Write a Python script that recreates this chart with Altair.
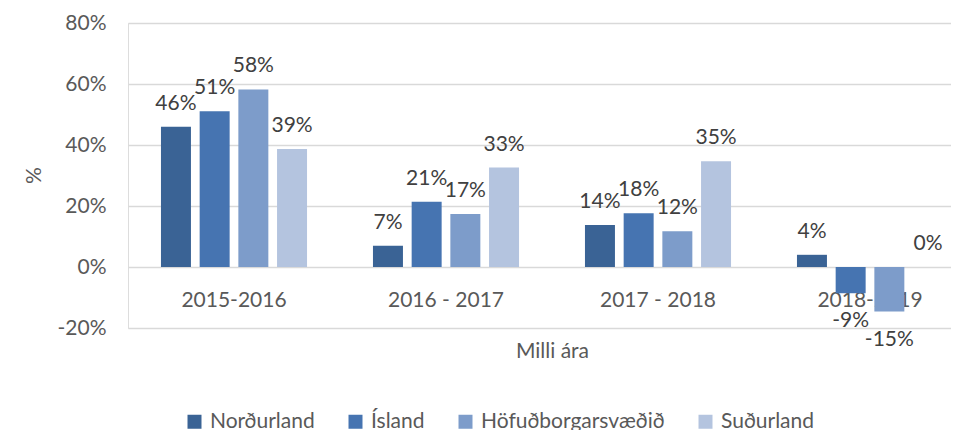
import altair as alt
import pandas as pd

categories = ["2015-2016", "2016 - 2017", "2017 - 2018", "2018-2019"]
series = ["Norðurland", "Ísland", "Höfuðborgarsvæðið", "Suðurland"]
nordurland = [0.46, 0.07, 0.138, 0.04]
island = [0.511, 0.214, 0.176, -0.086]
hofudborg = [0.582, 0.174, 0.117, -0.146]
sudurland = [0.387, 0.326, 0.347, 0.0]
colors = ["#3A6395", "#4674B1", "#7D9CCA", "#B4C4DF"]

rows = []
for name, vals in zip(series, [nordurland, island, hofudborg, sudurland]):
    for cat, v in zip(categories, vals):
        rows.append({"period": cat, "series": name, "value": v})
df = pd.DataFrame(rows)

FONT = "Lato"

x_enc = alt.X(
    "period:N",
    sort=categories,
    scale=alt.Scale(range=[0, 848], paddingInner=0.311, paddingOuter=0.1555),
    title="Milli ára",
    axis=alt.Axis(
        orient="bottom", offset=-61, domain=False, ticks=False, tickSize=0,
        labelAngle=0, labelFont=FONT, labelFontSize=21, labelColor="#595959",
        labelBaseline="alphabetic", labelPadding=39,
        titleFont=FONT, titleFontSize=21, titleFontWeight="normal", titleColor="#595959",
        titleX=424, titleY=90, titleAlign="center", titleBaseline="alphabetic",
    ),
)
xoff = alt.XOffset("series:N", sort=series, scale=alt.Scale(paddingInner=0.225, paddingOuter=0))
y_enc = alt.Y(
    "value:Q",
    scale=alt.Scale(domain=[-0.2, 0.8], nice=False),
    title="%",
    axis=alt.Axis(
        values=[-0.2, 0.0, 0.2, 0.4, 0.6, 0.8], format=".0%", domain=False, ticks=False, tickSize=0,
        labelExpr="replace(datum.label, '\u2212', '-')",
        labelFont=FONT, labelFontSize=21, labelColor="#595959", labelPadding=22,
        gridColor="#D9D9D9", gridWidth=1.5,
        titleFont=FONT, titleFontSize=21, titleFontWeight="normal", titleColor="#595959",
        titleX=-94, titleY=152, titleAlign="center", titleBaseline="middle", titleAngle=270,
    ),
)

base = alt.Chart(df).transform_calculate(
    label="replace(format(datum.value, '.0%'), '\u2212', '-')"
)

bars = base.mark_bar().encode(
    x=x_enc,
    xOffset=xoff,
    y=y_enc,
    color=alt.Color(
        "series:N",
        sort=series,
        scale=alt.Scale(domain=series, range=colors),
        legend=alt.Legend(
            orient="none", legendX=56, legendY=388, direction="horizontal", columns=4,
            title=None, symbolType="square", symbolSize=196, symbolStrokeWidth=0,
            labelFont=FONT, labelFontSize=21, labelColor="#595959", labelOffset=5,
            labelLimit=0, columnPadding=30,
        ),
    ),
)

pos_labels = base.transform_filter("datum.value >= 0").mark_text(
    font=FONT, fontSize=21, color="#404040", baseline="alphabetic", dy=-17
).encode(x=x_enc, xOffset=xoff, y=y_enc, text="label:N")

neg_labels = base.transform_filter("datum.value < 0").mark_text(
    font=FONT, fontSize=21, color="#404040", baseline="alphabetic", dy=34
).encode(x=x_enc, xOffset=xoff, y=y_enc, text="label:N")

chart = alt.layer(bars, pos_labels, neg_labels).properties(
    width=823,
    height=305,
    autosize=alt.AutoSizeParams(type="none"),
    padding={"left": 120, "top": 15, "right": 0, "bottom": 102},
).configure_view(stroke=None).configure(background="white")

chart.save("out.html", embed_options={"renderer": "svg", "actions": False})
